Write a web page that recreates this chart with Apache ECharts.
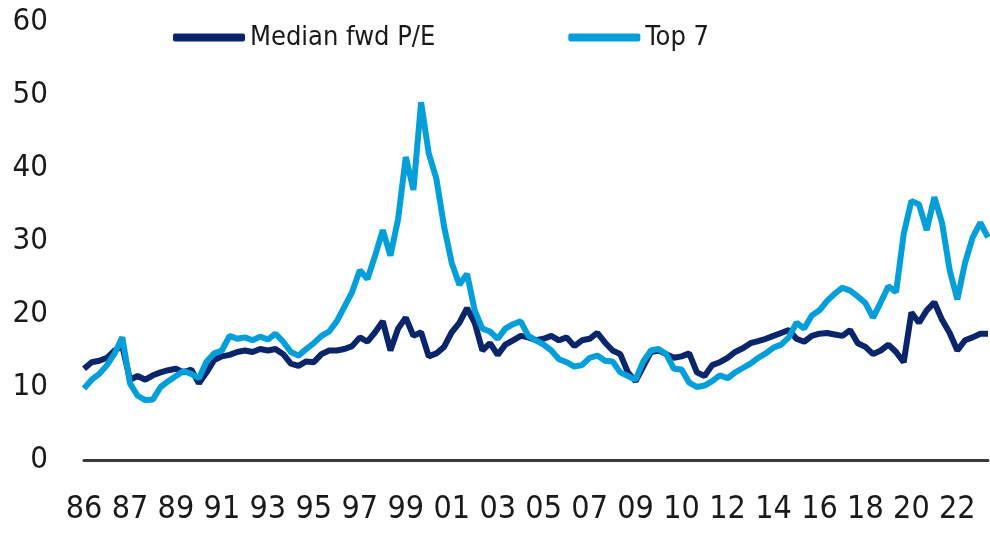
<!DOCTYPE html>
<html>
<head>
<meta charset="utf-8">
<script src="https://cdn.jsdelivr.net/npm/echarts@6/dist/echarts.min.js"></script>
<style>
  html, body { margin: 0; padding: 0; background: #fff; }
  #chart { width: 990px; height: 533px; }
</style>
</head>
<body>
<div id="chart"></div>
<script>
// year labels, one every 6 points
const tickLabels = ['86', '87', '89', '91', '93', '95', '97', '99', '01', '03',
  '05', '07', '09', '10', '12', '14', '16', '18', '20', '22']
const step = 6

// Median fwd P/E
const median = [
  12.5, 13.4, 13.6, 14.0, 15.0, 15.6, 11.0, 11.5, 11.0, 11.6,
  12.0, 12.3, 12.5, 12.0, 12.4, 10.5, 12.0, 13.7, 14.2, 14.4,
  14.8, 15.0, 14.8, 15.2, 15.0, 15.2, 14.5, 13.2, 12.9, 13.5,
  13.4, 14.5, 15.0, 15.0, 15.2, 15.6, 16.8, 16.2, 17.5, 19.0,
  15.0, 18.0, 19.5, 17.0, 17.5, 14.2, 14.6, 15.5, 17.5, 18.8,
  20.8, 18.8, 15.0, 16.0, 14.4, 15.8, 16.4, 17.0, 16.8, 16.4,
  16.6, 17.0, 16.4, 16.8, 15.6, 16.4, 16.6, 17.4, 16.1, 15.0,
  14.5, 12.0, 10.8, 12.8, 14.8, 15.0, 14.5, 14.0, 14.2, 14.6,
  12.0, 11.5, 13.0, 13.4, 14.0, 14.8, 15.3, 16.0, 16.3, 16.6,
  17.0, 17.4, 17.8, 16.6, 16.2, 17.0, 17.3, 17.4, 17.2, 17.0,
  17.8, 16.0, 15.5, 14.5, 15.0, 15.8, 14.8, 13.4, 20.2, 18.8,
  20.5, 21.6, 19.2, 17.4, 15.0, 16.4, 16.8, 17.3, 17.3
]

// Top 7
const top7 = [
  9.8, 11.0, 11.8, 13.0, 14.6, 16.8, 10.5, 8.8, 8.2, 8.3,
  10.0, 10.8, 11.5, 12.2, 11.8, 11.2, 13.5, 14.6, 15.0, 17.0,
  16.6, 16.8, 16.4, 16.9, 16.5, 17.3, 16.2, 14.8, 14.3, 15.2,
  16.0, 17.0, 17.6, 19.0, 21.0, 23.0, 26.0, 24.8, 28.0, 31.5,
  28.0, 33.0, 41.5, 37.0, 49.0, 42.0, 38.5, 32.0, 27.0, 24.0,
  25.5, 20.5, 18.0, 17.6, 16.6, 18.0, 18.6, 19.0, 17.0, 16.4,
  15.8, 15.0, 13.8, 13.4, 12.8, 13.0, 14.0, 14.3, 13.6, 13.5,
  12.0, 11.5, 11.0, 13.5, 15.0, 15.2, 14.5, 12.5, 12.4, 10.6,
  10.0, 10.2, 10.8, 11.6, 11.2, 12.0, 12.6, 13.2, 14.0, 14.6,
  15.4, 15.8, 16.8, 18.8, 18.0, 19.8, 20.5, 21.8, 22.8, 23.6,
  23.2, 22.4, 21.5, 19.5, 21.6, 23.8, 23.0, 31.0, 35.5, 35.0,
  31.5, 36.0, 32.5, 26.0, 22.0, 27.0, 30.5, 32.5, 30.5
]

const categories = median.map((v, i) => (i % step === 0 ? tickLabels[i / step] || '' : ''))

const font = '"DejaVu Sans Condensed", "Liberation Sans", Arial, sans-serif'

const option = {
  animation: false,
  textStyle: { fontFamily: font },
  legend: {
    left: 168,
    top: 19,
    itemWidth: 72,
    itemHeight: 8,
    itemGap: 133,
    icon: 'roundRect',
    textStyle: { fontFamily: font, fontSize: 27, color: '#1a1a1a' },
    data: ['Median fwd P/E', 'Top 7']
  },
  grid: { left: 84, right: 2, top: 22, bottom: 73 },
  xAxis: {
    type: 'category',
    boundaryGap: false,
    data: categories,
    axisLine: { lineStyle: { color: '#3a3a3a', width: 3 } },
    axisTick: { show: false },
    axisLabel: {
      interval: step - 1,
      margin: 34,
      fontFamily: font,
      fontSize: 32,
      color: '#1a1a1a'
    }
  },
  yAxis: {
    type: 'value',
    min: 0,
    max: 60,
    interval: 10,
    splitLine: { show: false },
    axisLine: { show: false },
    axisTick: { show: false },
    axisLabel: { margin: 36, fontFamily: font, fontSize: 31, color: '#1a1a1a' }
  },
  series: [
    {
      name: 'Median fwd P/E',
      type: 'line',
      data: median,
      showSymbol: false,
      lineStyle: { color: '#0a2569', width: 6 },
      itemStyle: { color: '#0a2569' }
    },
    {
      name: 'Top 7',
      type: 'line',
      data: top7,
      showSymbol: false,
      lineStyle: { color: '#049fd9', width: 6 },
      itemStyle: { color: '#049fd9' }
    }
  ]
}

const chart = echarts.init(document.getElementById('chart'))
chart.setOption(option)
</script>
</body>
</html>
